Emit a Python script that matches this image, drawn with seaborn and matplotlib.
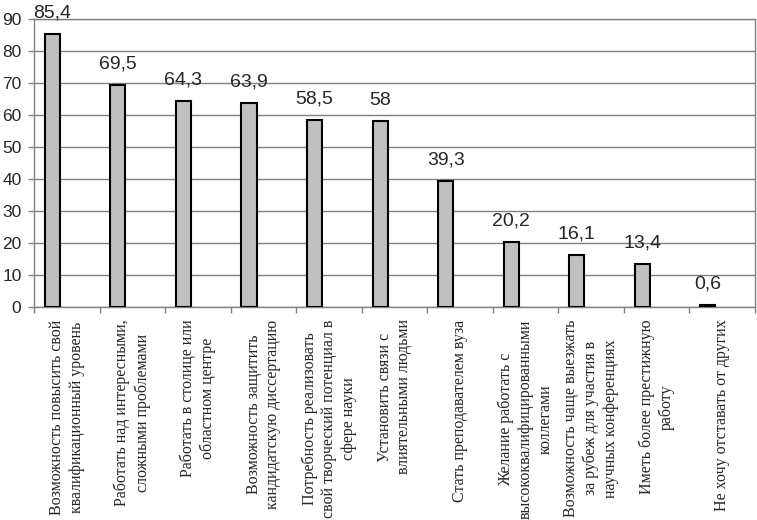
import matplotlib
matplotlib.use("Agg")
import matplotlib.pyplot as plt
import seaborn as sns
import pandas as pd

# motives (x labels) and shares, %
motives = [
    "Возможность повысить свой\nквалификационный уровень",
    "Работать над интересными,\nсложными проблемами",
    "Работать в столице или\nобластном центре",
    "Возможность защитить\nкандидатскую диссертацию",
    "Потребность реализовать\nсвой творческий потенциал в\nсфере науки",
    "Установить связи с\nвлиятельными людьми",
    "Стать преподавателем вуза",
    "Желание работать с\nвысококвалифицированными\nколлегами",
    "Возможность чаще выезжать\nза рубеж для участия в\nнаучных конференциях",
    "Иметь более престижную\nработу",
    "Не хочу отставать от других",
]
shares = [85.4, 69.5, 64.3, 63.9, 58.5, 58, 39.3, 20.2, 16.1, 13.4, 0.6]
y_ticks = list(range(0, 91, 10))

df = pd.DataFrame({"motive": motives, "share": shares})

sns.set_style("white")
plt.rcParams["font.family"] = ["Liberation Sans", "DejaVu Sans"]

fig = plt.figure(figsize=(7.57, 5.2), dpi=100)
ax = fig.add_axes([34 / 757, 1 - 307 / 520, 721 / 757, 288 / 520])

sns.barplot(data=df, x="motive", y="share", order=motives, width=0.23,
            color="#c0c0c0", edgecolor="black", linewidth=1.5,
            saturation=1, ax=ax, zorder=3)

# Excel-style: bars sit left of the category centre
for p in ax.patches:
    p.set_x(p.get_x() - 0.22)

for p, v in zip(ax.patches, shares):
    txt = f"{v:g}".replace(".", ",")
    ax.annotate(txt, (p.get_x() + p.get_width() / 2, p.get_height()),
                xytext=(0, 9), textcoords="offset points",
                ha="center", va="bottom", fontsize=14, clip_on=False)

ax.set_xlim(-0.5, len(motives) - 0.5)
ax.set_ylim(0, 90)
ax.set_yticks(y_ticks)
ax.tick_params(axis="y", labelsize=12.5, length=4, width=1, color="#808080", pad=5, left=True)
ax.set_xticks(range(len(motives)))
ax.set_xticklabels(motives, rotation=90, fontsize=11.5, family="Liberation Serif",
                   va="top", ha="center", multialignment="center", linespacing=1.3)
ax.tick_params(axis="x", length=0, pad=9)
ax.set_xticks([i - 0.5 for i in range(len(motives) + 1)], minor=True)
ax.tick_params(axis="x", which="minor", length=4, width=1, color="#808080", bottom=True)

ax.yaxis.grid(True, color="#808080", linewidth=1, zorder=0)
ax.set_axisbelow(True)
for s in ax.spines.values():
    s.set_color("#808080")
    s.set_linewidth(1)
ax.set_xlabel("")
ax.set_ylabel("")

fig.savefig("out.png", dpi=100)
